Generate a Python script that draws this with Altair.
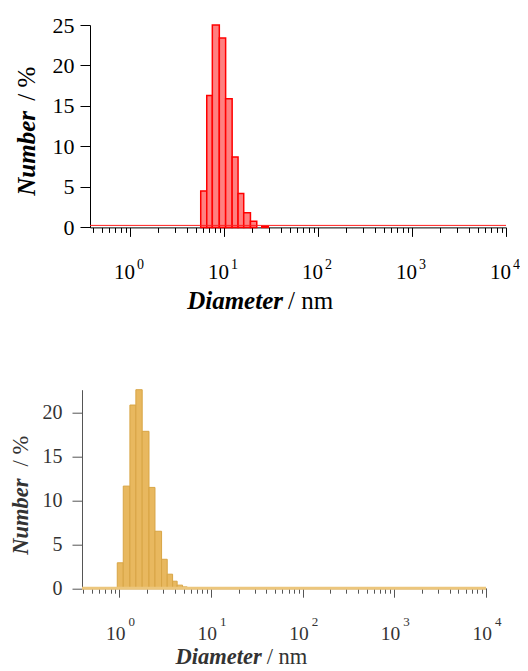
import altair as alt
import pandas as pd

# ---------------- data ----------------
top_lo = [5.65, 6.55, 7.51, 8.91, 10.4, 12.2, 14.1, 16.2, 19.1, 25.2]
top_hi = [6.55, 7.51, 8.91, 10.4, 12.2, 14.1, 16.2, 19.1, 22.3, 29.6]
top_num = [4.5, 16.3, 25.0, 23.4, 15.9, 8.7, 4.2, 1.8, 0.75, 0.15]

bot_lo = [0.946, 1.10, 1.30, 1.51, 1.77, 2.10, 2.44, 2.88, 3.32, 3.80, 4.26, 4.88]
bot_hi = [1.10, 1.30, 1.51, 1.77, 2.10, 2.44, 2.88, 3.32, 3.80, 4.26, 4.88, 5.48]
bot_num = [2.9, 11.65, 20.9, 22.65, 17.9, 11.5, 6.5, 3.3, 1.6, 0.8, 0.35, 0.15]

decades = [1, 10, 100, 1000, 10000]
exponents = ["0", "1", "2", "3", "4"]
y_ticks_top = [0, 5, 10, 15, 20, 25]
y_ticks_bot = [0, 5, 10, 15, 20]
x_min_top, x_min_bot, x_max = 0.375, 0.39, 10000
y_max_top, y_max_bot = 25, 22.65

minor_ticks = [m * 10 ** e for e in range(-1, 4) for m in range(1, 10)] + [10000]
minor_ticks = [round(v, 6) for v in minor_ticks if v >= 0.4]

FONT = "Liberation Serif"
MAJOR_TEST = "abs(log(datum.value)/LN10 - round(log(datum.value)/LN10)) < 0.001"


def panel(lo, hi, num, xmin, ymax, yticks, w, h, fill, stroke, sw, base_color,
          base_w, axis_color, text_color, lab_fs, tick_fs, sup_fs, title_fs,
          geo, left_pad, shift):
    df = pd.DataFrame({"lo": lo, "hi": hi, "num": num})
    xs = alt.Scale(type="log", domain=[xmin, x_max], nice=False,
                   range=[shift, shift + w])
    ys = alt.Scale(domain=[0, ymax], nice=False, zero=True)
    xax = alt.Axis(values=minor_ticks, labels=False, title=None, grid=False,
                   domainColor=axis_color, tickColor=axis_color,
                   tickSize={"condition": {"test": MAJOR_TEST, "value": 9}, "value": 5},
                   domainWidth=1, tickWidth=1)
    yax = alt.Axis(values=yticks, title=None, grid=False, labelFont=FONT,
                   labelFontSize=lab_fs, labelColor=text_color,
                   domainColor=axis_color, tickColor=axis_color, tickSize=10,
                   labelPadding=geo["lpad"], offset=-shift)
    bars = alt.Chart(df).mark_rect(fill=fill, stroke=stroke, strokeWidth=sw).encode(
        x=alt.X("lo:Q", scale=xs, axis=xax),
        x2="hi:Q",
        y=alt.Y("num:Q", scale=ys, axis=yax),
        y2=alt.datum(0),
    )
    base = alt.Chart(pd.DataFrame({"a": [xmin], "b": [x_max]})).mark_rule(
        color=base_color, strokeWidth=base_w, yOffset=geo["boff"]).encode(
        x="a:Q", x2="b:Q", y=alt.datum(0))
    dec = pd.DataFrame({"d": decades, "e": exponents, "t": ["10"] * 5})
    ten = alt.Chart(dec).mark_text(font=FONT, fontSize=tick_fs, align="right",
                                   baseline="alphabetic", dx=geo["tdx"],
                                   color=text_color).encode(
        x="d:Q", y=alt.value(geo["ty"]), text="t:N")
    sup = alt.Chart(dec).mark_text(font=FONT, fontSize=sup_fs, align="left",
                                   baseline="alphabetic", dx=geo["sdx"],
                                   color=text_color).encode(
        x="d:Q", y=alt.value(geo["sy"]), text="e:N")
    one = pd.DataFrame({"k": [0]})
    xt1 = alt.Chart(one).mark_text(text="Diameter", font=FONT, fontSize=title_fs,
                                   fontStyle="italic", fontWeight="bold",
                                   align="right", baseline="alphabetic",
                                   color=text_color).encode(
        x=alt.value(shift + geo["xt_x"]), y=alt.value(geo["xt_y"]))
    xt2 = alt.Chart(one).mark_text(text="/ nm", font=FONT, fontSize=title_fs,
                                   align="left", baseline="alphabetic",
                                   color=text_color).encode(
        x=alt.value(shift + geo["xt_x"] + 5), y=alt.value(geo["xt_y"]))
    yt1 = alt.Chart(one).mark_text(text="Number", font=FONT, fontSize=title_fs,
                                   fontStyle="italic", fontWeight="bold",
                                   align="left", baseline="alphabetic", angle=270,
                                   color=text_color).encode(
        x=alt.value(shift + geo["yt_x"]), y=alt.value(geo["yt_y"]))
    yt2 = alt.Chart(one).mark_text(text="/ %", font=FONT, fontSize=title_fs,
                                   align="left", baseline="alphabetic", angle=270,
                                   color=text_color).encode(
        x=alt.value(shift + geo["yt_x"]), y=alt.value(geo["yt2_y"]))
    # white (invisible on white) frame line fixing the panel's outer bounds
    frame = alt.Chart(one).mark_rule(color="white", strokeWidth=1).encode(
        x=alt.value(left_pad), y=alt.value(geo["fy1"]), y2=alt.value(geo["fy2"]))
    return alt.layer(frame, bars, base, ten, sup, xt1, xt2, yt1, yt2).properties(
        width=shift + w, height=h)


top = panel(top_lo, top_hi, top_num, x_min_top, y_max_top, y_ticks_top,
            416, 202.4, "#ff8080", "#ff0000", 1.5, "#ff2020", 1, "#000000",
            "#000000", 22, 21, 14, 25,
            dict(lpad=6, boff=-2, tdx=5, ty=253.7, sdx=7, sy=244,
                 xt_x=193, xt_y=283.7, yt_x=-55, yt_y=170.7, yt2_y=75.7,
                 fy1=-24.3, fy2=300), -81.5, 8)

bot = panel(bot_lo, bot_hi, bot_num, x_min_bot, y_max_bot, y_ticks_bot,
            404, 198.5, "#e8b85f", "#d8a545", 1, "#ecc67c", 3, "#555555",
            "#333333", 20, 19.5, 13, 22.5,
            dict(lpad=10, boff=0, tdx=6, ty=250.5, sdx=9, sy=236,
                 xt_x=179.7, xt_y=274, yt_x=-53.7, yt_y=165, yt2_y=76.7,
                 fy1=-10, fy2=280), -81.5, 0)

chart = alt.vconcat(top, bot, spacing=52.7).properties(
    padding={"left": 0, "top": 0, "right": 0, "bottom": 0}
).configure_view(stroke=None)

chart.save("out.html", embed_options={"renderer": "svg", "actions": False})
